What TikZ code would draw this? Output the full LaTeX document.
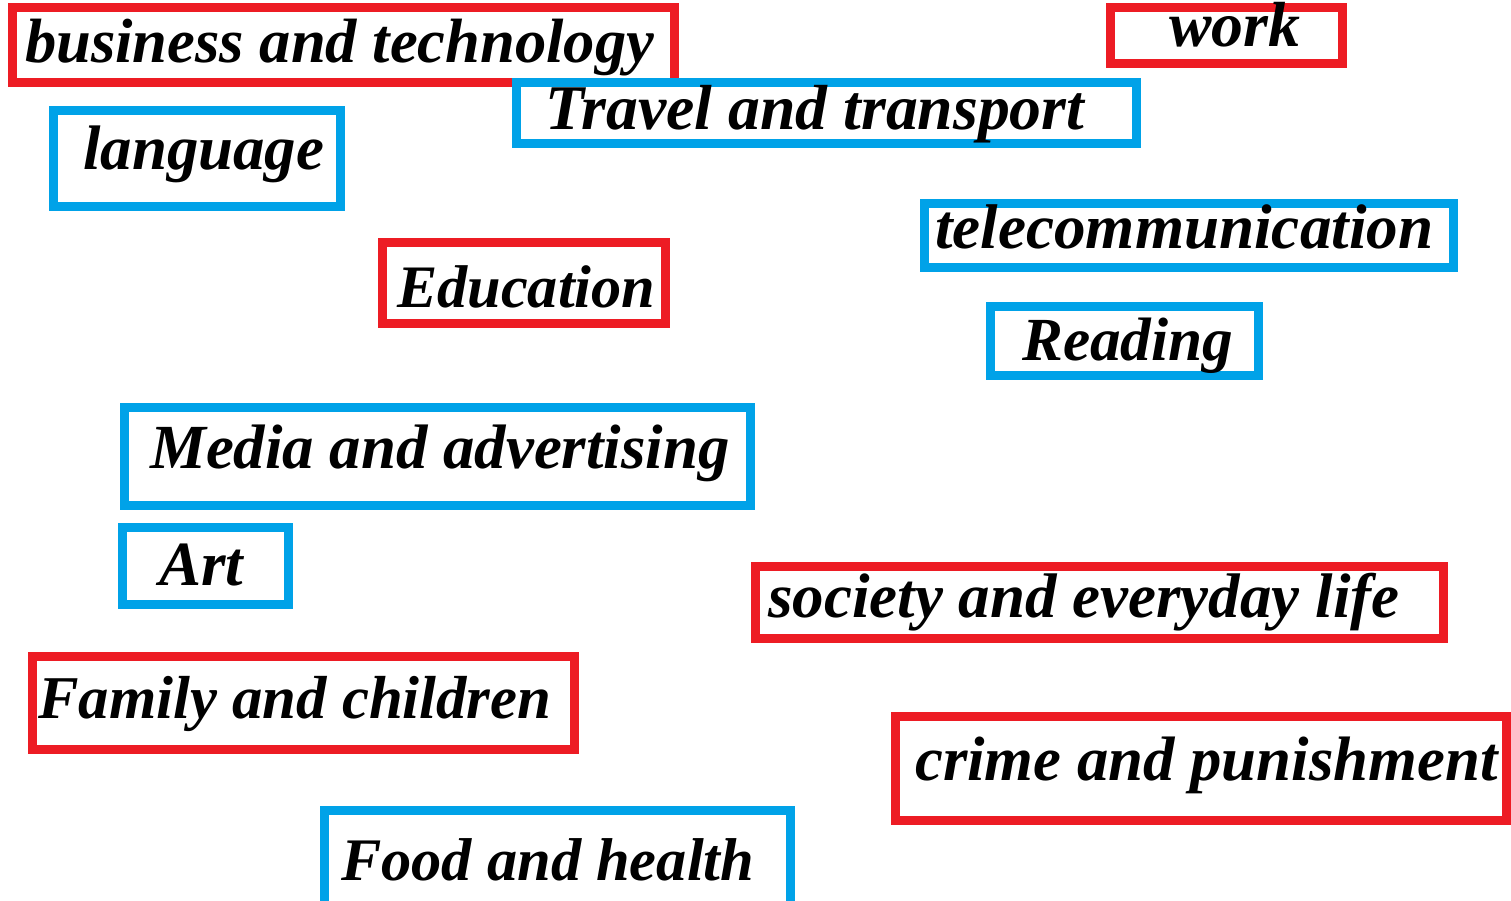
\documentclass[tikz,border=0pt]{standalone}
\usepackage{fontspec}
\usepackage{graphicx}
\setmainfont{Liberation Serif}
\definecolor{boxred}{HTML}{ED1C24}
\definecolor{boxblue}{HTML}{00A2E8}
\newcommand{\lbl}[2]{\resizebox{#1pt}{!}{\bfseries\itshape #2}}
\tikzset{
  redframe/.style={draw=boxred, line width=9pt},
  blueframe/.style={draw=boxblue, line width=9pt},
  word/.style={anchor=base west, inner sep=0pt, text=black},
}
\begin{document}
\begin{tikzpicture}[x=1pt,y=-1pt]
\useasboundingbox (0,0) rectangle (1511,901);
\fill[white] (0,0) rectangle (1511,901);
% frames
\draw[redframe]  (12.5,7.5) rectangle (674.5,82.5);
\draw[redframe]  (1110.5,7.5) rectangle (1342.5,63.5);
\draw[blueframe] (516.5,82.5) rectangle (1136.5,143.5);
\draw[blueframe] (53.5,110.5) rectangle (340.5,206.5);
\draw[blueframe] (924.5,203.5) rectangle (1453.5,267.5);
\draw[redframe]  (382.5,242.5) rectangle (665.5,323.5);
\draw[blueframe] (990.5,306.5) rectangle (1258.5,375.5);
\draw[blueframe] (124.5,407.5) rectangle (750.5,505.5);
\draw[blueframe] (122.5,527.5) rectangle (288.5,604.5);
\draw[redframe]  (755.5,566.5) rectangle (1443.5,638.5);
\draw[redframe]  (32.5,656.5) rectangle (574.5,749.5);
\draw[redframe]  (895.5,716.5) rectangle (1506.5,820.5);
\draw[blueframe] (324.5,810.5) rectangle (790.5,915);
% labels
\node[word] (business) at (25,63) {\lbl{629}{business and technology}};
\node[word] (work) at (1169,47) {\lbl{131}{work}};
\node[word] (travel) at (545,130) {\lbl{539}{Travel and transport}};
\node[word] (language) at (83,170) {\lbl{241}{language}};
\node[word] (telecom) at (935,249) {\lbl{498}{telecommunication}};
\node[word] (education) at (397,307) {\lbl{258}{Education}};
\node[word] (reading) at (1022,360) {\lbl{211}{Reading}};
\node[word] (media) at (150,468) {\lbl{579}{Media and advertising}};
\node[word] (art) at (159,585) {\lbl{84}{Art}};
\node[word] (society) at (768,617) {\lbl{631}{society and everyday life}};
\node[word] (family) at (38,718) {\lbl{513}{Family and children}};
\node[word] (crime) at (915,780) {\lbl{582}{crime and punishment}};
\node[word] (food) at (341,880) {\lbl{413}{Food and health}};
\end{tikzpicture}
\end{document}
